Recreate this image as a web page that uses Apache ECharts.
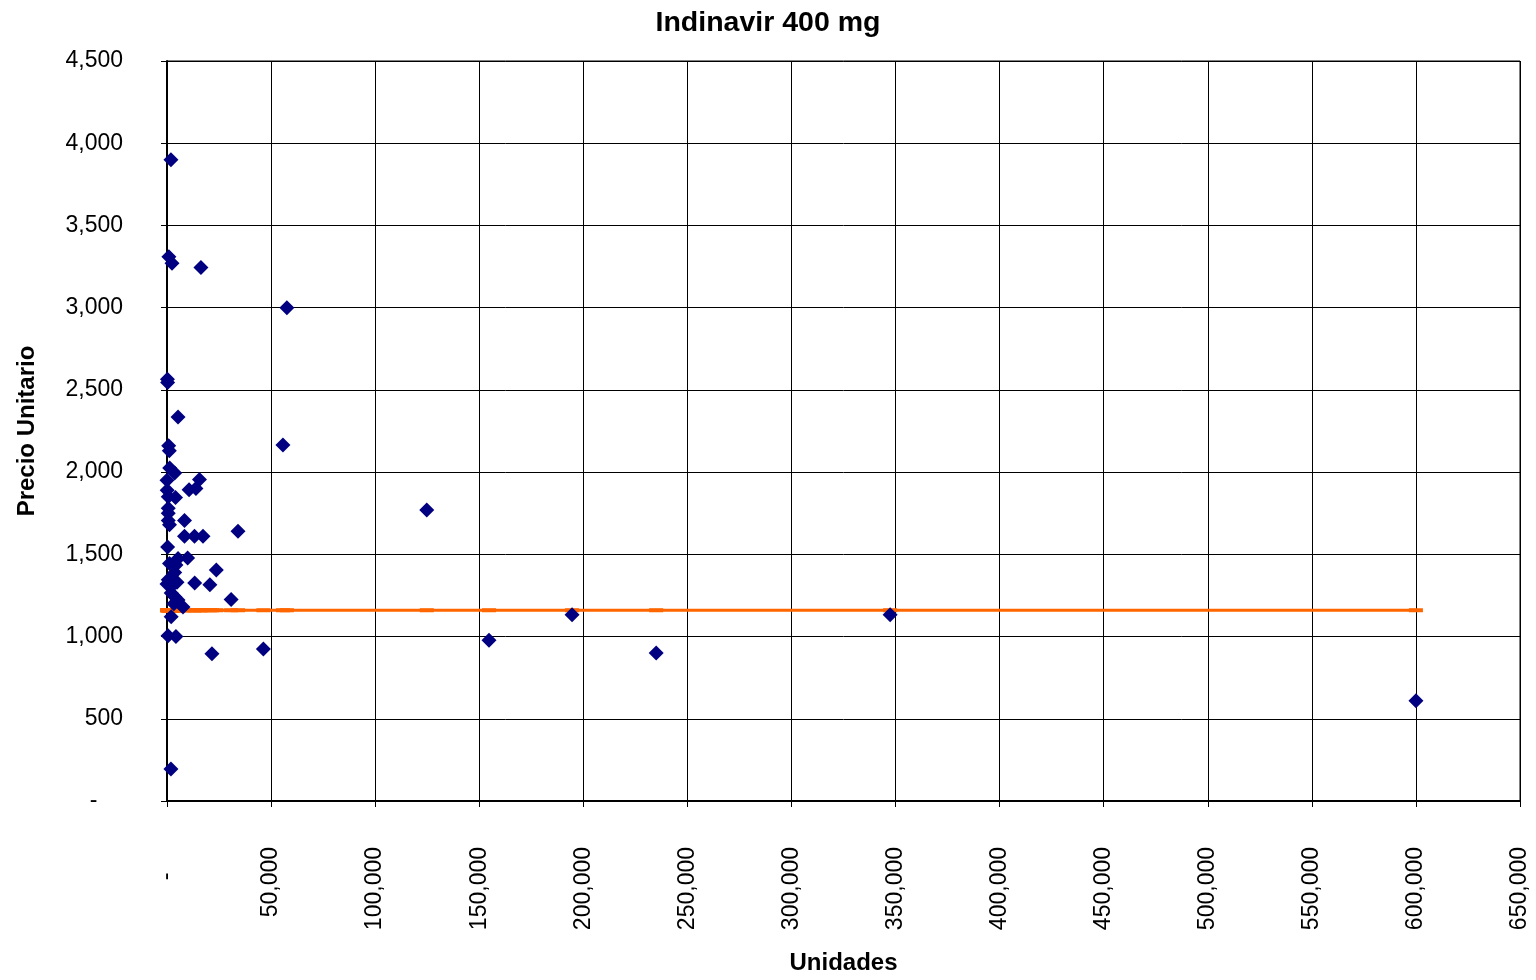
<!DOCTYPE html>
<html>
<head>
<meta charset="utf-8">
<script src="https://cdn.jsdelivr.net/npm/echarts@6/dist/echarts.min.js"></script>
<style>
html,body{margin:0;padding:0;background:#fff;}
#chart{width:1536px;height:980px;}
</style>
</head>
<body>
<div id="chart"></div>
<script>
const chartTitle = 'Indinavir 400 mg';
const xAxisTitle = 'Unidades';
const yAxisTitle = 'Precio Unitario';

// Units sold (x) and unit price (y)
const units = [
  1900, 900, 2400, 16300, 57600, 200, 300, 5300, 55700, 124800,
  34100, 23700, 13300, 20600, 30800, 46300, 21600, 154700, 194600, 235000,
  347400, 600000, 1900, 4300, 500,
  800, 1100, 1300, 3700, 15600, 0, 10600, 13900, 100, 600,
  4100, 600, 600, 600, 8400, 1200, 8400, 13200, 17300, 300,
  1200, 5300, 9900, 4300, 3700, 600, 2900, 0, 2000, 5300,
  7700, 2000, 3300, 4800, 3800
];
const prices = [
  3900, 3310, 3270, 3245, 3000, 2565, 2545, 2335, 2165, 1770,
  1640, 1405, 1325, 1315, 1225, 925, 895, 978, 1133, 900,
  1133, 610, 195, 1000, 1005,
  2160, 2130, 2025, 1995, 1955, 1950, 1893, 1900, 1890, 1850,
  1845, 1780, 1750, 1705, 1705, 1680, 1610, 1610, 1610, 1545,
  1445, 1475, 1478, 1435, 1390, 1345, 1315, 1320, 1265, 1222,
  1180, 1120, 1200, 1330, 1240
];
// Average price reference line
const meanPrice = 1160;

const xTicks = { min: 0, max: 650000, interval: 50000 };
const yTicks = { min: 0, max: 4500, interval: 500 };

const scatterData = units.map((u, i) => [u, prices[i]]);
const meanXs = Array.from(new Set(units)).sort((a, b) => a - b);
const meanData = meanXs.map(u => [u, meanPrice]);

function fmt(v) {
  if (v === 0) return '-    ';
  return v.toLocaleString('en-US');
}

const chart = echarts.init(document.getElementById('chart'), null, { renderer: 'canvas' });
const FONT = 'Liberation Sans, Arial, sans-serif';
chart.setOption({
  backgroundColor: '#ffffff',
  animation: false,
  title: {
    text: chartTitle,
    left: 'center',
    top: 4,
    textStyle: { fontFamily: FONT, fontSize: 28.5, fontWeight: 'bold', color: '#000' }
  },
  grid: {
    left: 167, right: 16, top: 61, bottom: 179,
    show: true, borderColor: '#000', borderWidth: 1, backgroundColor: '#fff'
  },
  xAxis: {
    type: 'value',
    min: xTicks.min, max: xTicks.max, interval: xTicks.interval,
    name: xAxisTitle,
    nameLocation: 'middle',
    nameGap: 150,
    nameTextStyle: { fontFamily: FONT, fontSize: 24, fontWeight: 'bold', color: '#000' },
    axisLine: { show: true, onZero: false, lineStyle: { color: '#000', width: 2 } },
    axisTick: { show: true, inside: false, length: 6, lineStyle: { color: '#000' } },
    axisLabel: {
      rotate: 90, margin: 46,
      fontFamily: FONT, fontSize: 23, color: '#000',
      formatter: fmt
    },
    splitLine: { show: true, lineStyle: { color: '#000', width: 1 } }
  },
  yAxis: {
    type: 'value',
    min: yTicks.min, max: yTicks.max, interval: yTicks.interval,
    name: yAxisTitle,
    nameLocation: 'middle',
    nameGap: 128,
    nameTextStyle: { fontFamily: FONT, fontSize: 24, fontWeight: 'bold', color: '#000' },
    axisLine: { show: true, onZero: false, lineStyle: { color: '#000', width: 2 } },
    axisTick: { show: true, inside: false, length: 6, lineStyle: { color: '#000' } },
    axisLabel: {
      margin: 44,
      fontFamily: FONT, fontSize: 23, color: '#000',
      formatter: fmt
    },
    splitLine: { show: true, lineStyle: { color: '#000', width: 1 } }
  },
  series: [
    {
      type: 'line',
      data: meanData,
      symbol: 'rect',
      symbolSize: [14, 4],
      showSymbol: true,
      itemStyle: { color: '#FF6600' },
      lineStyle: { color: '#FF6600', width: 3 },
      z: 2
    },
    {
      type: 'scatter',
      data: scatterData,
      symbol: 'diamond',
      symbolSize: 15,
      itemStyle: { color: '#000080', opacity: 1 },
      z: 3
    }
  ]
});
</script>
</body>
</html>
